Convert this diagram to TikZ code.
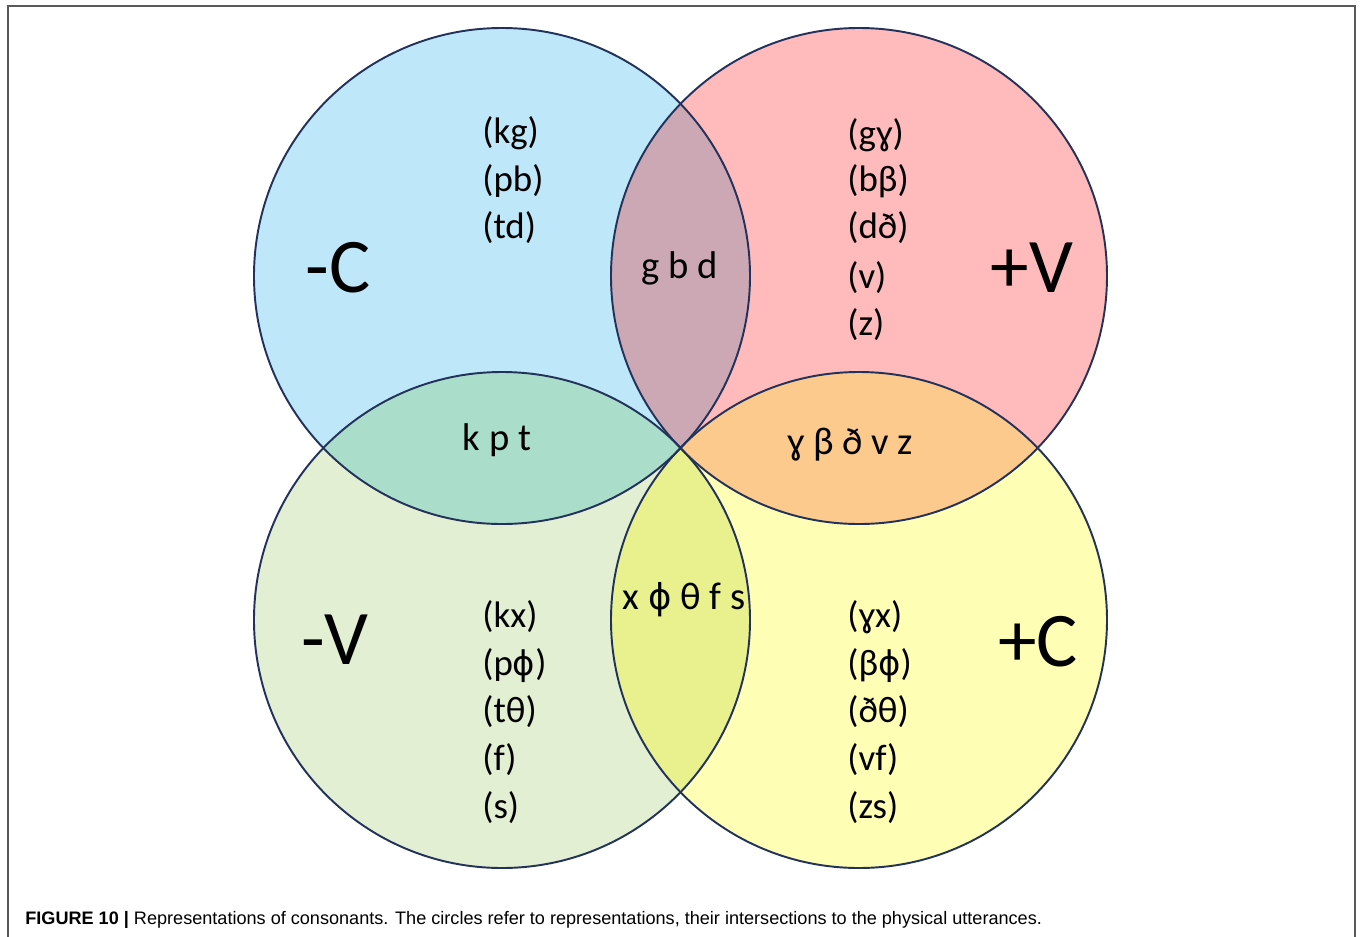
\documentclass[tikz,border=0pt]{standalone}
\usepackage{fontspec}
\setmainfont{Carlito}
\newfontfamily\capfont{Liberation Sans}
\newfontfamily\ipafont{DejaVu Sans}
\newcommand{\ph}{{\ipafont\scalebox{0.92}{ɸ}}}
\begin{document}
\begin{tikzpicture}[x=0.02cm,y=-0.02cm,
  ring/.style={draw=ringc,line width=1.1pt},
  big/.style={font=\fontsize{44}{44}\selectfont,inner sep=0pt},
  lbl/.style={font=\fontsize{21}{21}\selectfont,inner sep=0pt,anchor=base west},
  lens/.style={font=\fontsize{22}{22}\selectfont,inner sep=0pt}]
\definecolor{ringc}{RGB}{35,50,90}
\definecolor{cblue}{RGB}{190,232,249}
\definecolor{cpink}{RGB}{255,186,188}
\definecolor{cgreen}{RGB}{226,239,211}
\definecolor{cyellow}{RGB}{254,254,180}
\definecolor{cmauve}{RGB}{204,168,180}
\definecolor{cteal}{RGB}{170,222,202}
\definecolor{corange}{RGB}{253,202,142}
\definecolor{clime}{RGB}{232,241,142}
\useasboundingbox (0,0) rectangle (1360,937);
\draw[line width=1pt,draw=black!65] (8,940) -- (8,6) -- (1355,6) -- (1355,940);
\coordinate (tl) at (502,276);
\coordinate (tr) at (859,276);
\coordinate (bl) at (502,620);
\coordinate (br) at (859,620);
\def\R{248}
\fill[cblue] (tl) circle[radius=\R];
\fill[cpink] (tr) circle[radius=\R];
\fill[cgreen] (bl) circle[radius=\R];
\fill[cyellow] (br) circle[radius=\R];
\begin{scope}\clip (tl) circle[radius=\R]; \fill[cmauve] (tr) circle[radius=\R];\end{scope}
\begin{scope}\clip (tl) circle[radius=\R]; \fill[cteal] (bl) circle[radius=\R];\end{scope}
\begin{scope}\clip (tr) circle[radius=\R]; \fill[corange] (br) circle[radius=\R];\end{scope}
\begin{scope}\clip (bl) circle[radius=\R]; \fill[clime] (br) circle[radius=\R];\end{scope}
\draw[ring] (tl) circle[radius=\R];
\draw[ring] (tr) circle[radius=\R];
\draw[ring] (bl) circle[radius=\R];
\draw[ring] (br) circle[radius=\R];
% big labels
\node[big] (mc) at (338,268) {-C};
\node[big] (pv) at (1032,268) {+V};
\node[big] (mv) at (335,640) {-V};
\node[big] (pc) at (1038,642) {+C};
% lists
\node[lbl] (a1) at (482,143) {(kg)};
\node[lbl] (a2) at (482,191) {(pb)};
\node[lbl] (a3) at (482,238) {(td)};
\node[lbl] (b1) at (847,145) {(gɣ)};
\node[lbl] (b2) at (847,191) {(bβ)};
\node[lbl] (b3) at (847,238) {(dð)};
\node[lbl] (b4) at (847,288) {(v)};
\node[lbl] (b5) at (847,335) {(z)};
\node[lbl] (c1) at (482,627) {(kx)};
\node[lbl] (c2) at (482,675) {(p\ph)};
\node[lbl] (c3) at (482,722) {(tθ)};
\node[lbl] (c4) at (482,770) {(f)};
\node[lbl] (c5) at (482,818) {(s)};
\node[lbl] (d1) at (847,627) {(ɣx)};
\node[lbl] (d2) at (847,675) {(β\ph)};
\node[lbl] (d3) at (847,722) {(ðθ)};
\node[lbl] (d4) at (847,770) {(vf)};
\node[lbl] (d5) at (847,818) {(zs)};
% lens labels
\node[lens] (l1) at (680,268) {g b d};
\node[lens] (l2) at (497,440) {k p t};
\node[lens] (l3) at (850,445) {ɣ β ð v z};
\node[lens] (l4) at (684,600) {x \ph{} θ f s};
% caption
\node[anchor=base west,inner sep=0pt,font=\capfont\fontsize{10.3}{10.3}\selectfont] (cap) at (25,924)
 {\textbf{FIGURE 10 |} Representations of consonants. The circles refer to representations, their intersections to the physical utterances.};
\end{tikzpicture}
\end{document}
